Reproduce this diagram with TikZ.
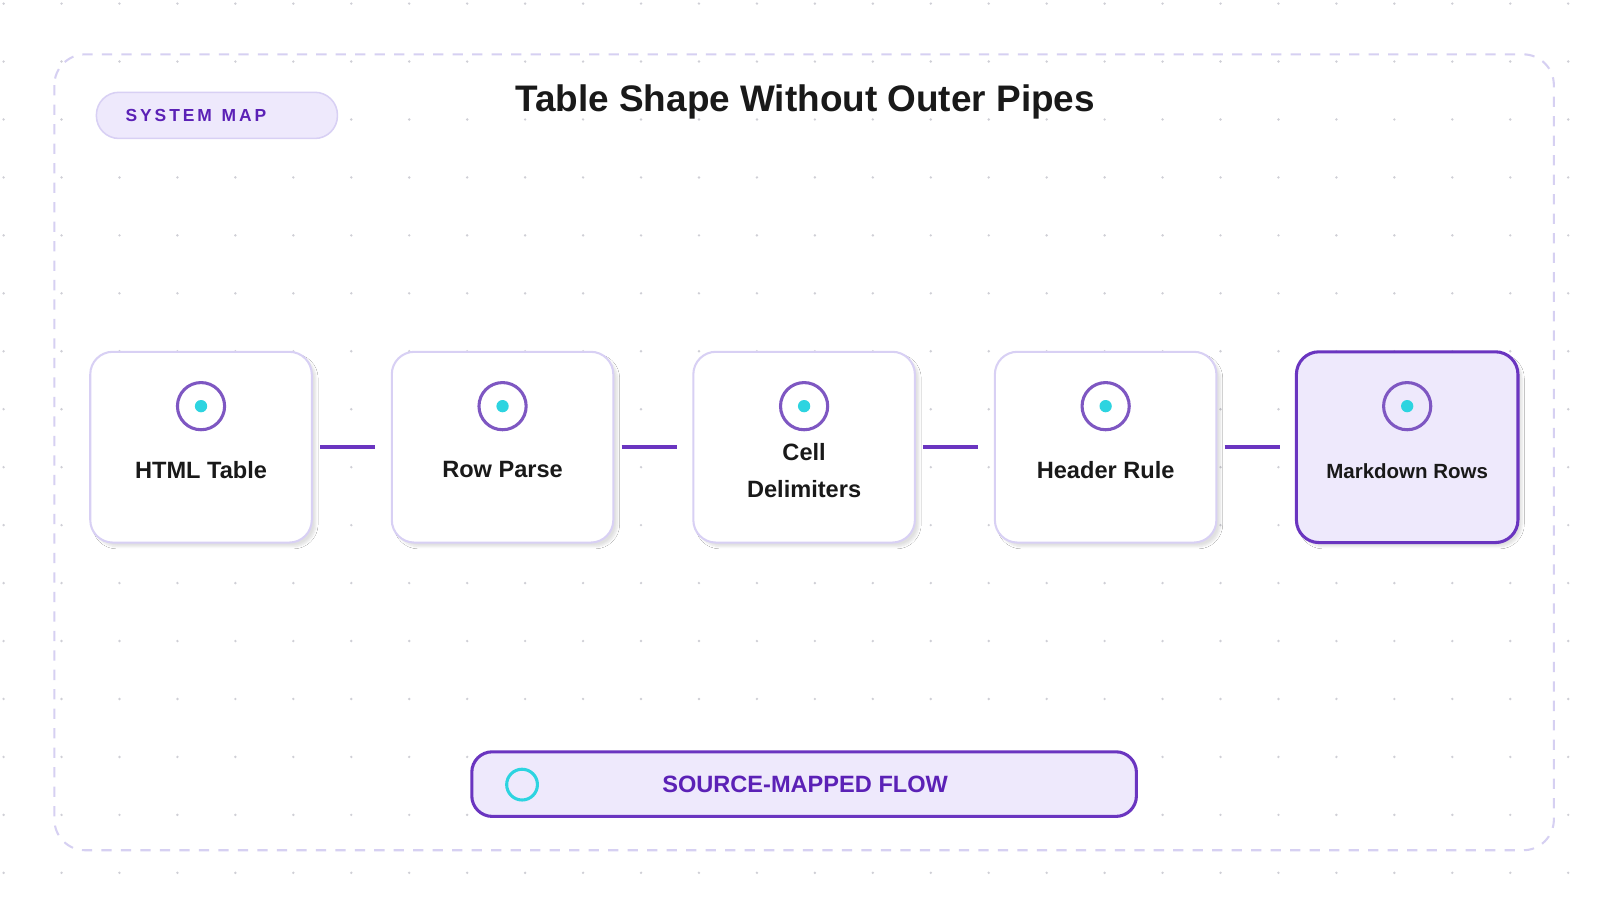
\documentclass[tikz,border=0pt]{standalone}
\usepackage{fontspec}
\setmainfont{Liberation Sans}
\usetikzlibrary{shadows.blur}
\definecolor{lav}{HTML}{D6D0F2}
\definecolor{boxb}{HTML}{D8D0F4}
\definecolor{pur}{HTML}{6A35C0}
\definecolor{ring}{HTML}{7E57C2}
\definecolor{cyan}{HTML}{2DD4E0}
\definecolor{txtp}{HTML}{5B21B6}
\definecolor{pfill}{HTML}{EEE9FC}
\definecolor{dotc}{HTML}{CFCFD6}
\tikzset{
 box/.style={draw=boxb,line width=2pt,fill=white,rounded corners=22pt,minimum width=216pt,minimum height=186pt,inner sep=0pt,
   blur shadow={shadow xshift=4pt,shadow yshift=-4pt,shadow blur steps=6,shadow opacity=12}},
 last/.style={box,draw=pur,line width=3pt,fill=pfill},
 lab/.style={font=\bfseries\fontsize{23}{36}\selectfont,text=black!90,align=center},
 ringc/.style={circle,draw=ring,line width=3pt,minimum size=46pt,inner sep=0pt},
 dotin/.style={circle,fill=cyan,minimum size=12pt,inner sep=0pt},
 conn/.style={draw=pur,line width=4pt,shorten <=7pt,shorten >=15pt}
}
\begin{document}
\begin{tikzpicture}[x=1pt,y=-1pt]
\useasboundingbox (0,0) rectangle (1560,877);
\fill[white] (0,0) rectangle (1560,877);
\foreach \i in {0,...,27}{\foreach \j in {0,...,15}{
  \fill[dotc] ({3.5+56.5*\i},{3.5+56.5*\j}) circle (1.3pt);}}
\draw[lav,line width=2pt,dash pattern=on 10pt off 9pt,rounded corners=30pt,fill=white,fill opacity=0] (53,53) rectangle (1515,829);
\node[draw=boxb,line width=1.5pt,fill=pfill,rounded corners=22pt,minimum width=235pt,minimum height=45pt,inner sep=0pt] (pill) at (211.5,112.5) {};
\node[text=txtp,font=\bfseries\fontsize{17}{20}\selectfont,anchor=west] (pilltxt) at (119,113) {S\,Y\,S\,T\,E\,M\ \ M\,A\,P};
\node[font=\bfseries\fontsize{36}{40}\selectfont,text=black!90] (title) at (785,99) {Table Shape Without Outer Pipes};
\foreach \n/\x in {1/196,2/490,3/784,4/1078}{\node[box] (b\n) at (\x,436) {};}
\node[last] (b5) at (1372,436) {};
\foreach \n/\x in {1/196,2/490,3/784,4/1078,5/1372}{
 \node[ringc] (r\n) at (\x,396) {}; \node[dotin] (d\n) at (\x,396) {};}
\node[lab] (l1) at (196,458) {HTML Table};
\node[lab] (l2) at (490,458) {Row Parse};
\node[lab] (l3) at (784,459) {Cell\\Delimiters};
\node[lab] (l4) at (1078,458) {Header Rule};
\node[lab,font=\bfseries\fontsize{20}{24}\selectfont] (l5) at (1372,459) {Markdown Rows};
\foreach \a/\b in {b1/b2,b2/b3,b3/b4,b4/b5}{\draw[conn] (\a.east) -- (\b.west);}
\node[draw=pur,line width=3pt,fill=pfill,rounded corners=20pt,minimum width=648pt,minimum height=63pt,inner sep=0pt] (flow) at (784,764.5) {};
\node[circle,draw=cyan,line width=3pt,minimum size=30pt,inner sep=0pt] (fc) at (509,765) {};
\node[text=txtp,font=\bfseries\fontsize{23}{26}\selectfont] (ft) at (785,765) {SOURCE-MAPPED FLOW};
\end{tikzpicture}
\end{document}
